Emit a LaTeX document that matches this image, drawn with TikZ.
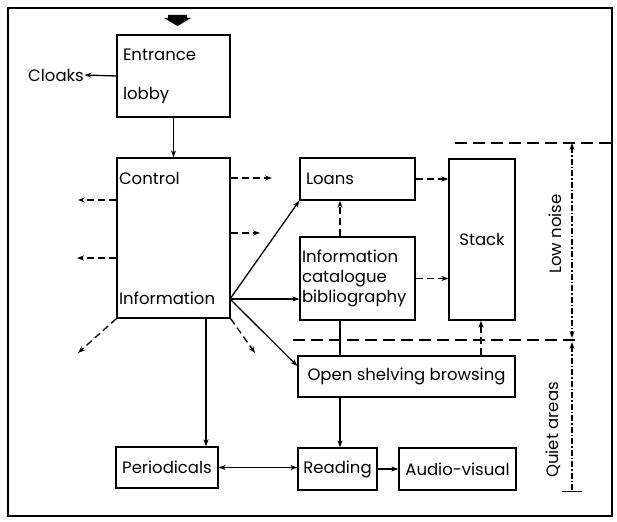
\documentclass[tikz,border=0pt]{standalone}
\usepackage{fontspec}
\setmainfont{Poppins}
\usetikzlibrary{arrows.meta,calc}
\newcommand\dfont{\fontsize{16.5}{20}\selectfont}
\begin{document}
\begin{tikzpicture}[x=1pt,y=-1pt,
  line width=1.3pt,
  box/.style={draw,rectangle,inner sep=0pt,font=\dfont},
  lbl/.style={inner sep=0pt,font=\dfont},
  arr/.style={-{Stealth[length=7pt,width=5pt]}},
  darr/.style={dash pattern=on 7pt off 4pt,-{Stealth[length=7pt,width=5pt]}},
  zone/.style={line width=1.5pt,dash pattern=on 12pt off 6pt},
  dim/.style={line width=1.1pt,dash pattern=on 6pt off 2pt on 1.5pt off 2pt}]
\useasboundingbox (0,0) rectangle (617,521);
\draw[line width=1.4pt] (8,8) rectangle (612,516);
% entrance arrow
\fill (168,15) -- (187,15) -- (187,18) -- (191,18) -- (177.5,26) -- (164,18) -- (168,18) -- cycle;
% boxes
\node[box,minimum width=113pt,minimum height=82pt,text width=101pt,align=left] (lobby) at (173.5,76) {Entrance\\[19pt]lobby};
\node[box,minimum width=113pt,minimum height=160pt,text width=109pt,align=left] (ctrl) at (173.5,238) {Control\\[100pt]Information};
\node[box,minimum width=115pt,minimum height=42pt,text width=103pt,align=left] (loans) at (357.5,179) {Loans};
\node[box,minimum width=115pt,minimum height=83pt,text width=111pt,align=left] (cat) at (357.5,278.5) {Information\\catalogue\\bibliography};
\node[box,minimum width=66pt,minimum height=161pt] (stack) at (482,239.5) {Stack};
\node[box,minimum width=217pt,minimum height=41pt] (open) at (406.5,376.5) {Open shelving browsing};
\node[box,minimum width=79pt,minimum height=42pt] (read) at (337.5,469) {Reading};
\node[box,minimum width=117pt,minimum height=42pt] (av) at (457.5,469) {Audio-visual};
\node[box,minimum width=102pt,minimum height=41pt] (per) at (167,467.5) {Periodicals};
\node[lbl] (cloaks) at (56,75) {Cloaks};
\node[lbl,rotate=90] (low) at (555,234) {Low noise};
\node[lbl,rotate=90] (quiet) at (553,430) {Quiet areas};
% coordinates
\coordinate (ip) at (230,299);
\coordinate (l1) at (78,200);
\coordinate (l2) at (77,258);
\coordinate (r1) at (272,178);
\coordinate (r2) at (260,233);
\coordinate (dl) at (78,353);
\coordinate (dr) at (255,353);
% connectors
\draw[arr] (lobby.west) -- (cloaks.east);
\draw[arr] (lobby.south) -- (ctrl.north);
\draw[darr] (ctrl.west |- l1) -- (l1);
\draw[darr] (ctrl.west |- l2) -- (l2);
\draw[darr] (ctrl.east |- r1) -- (r1);
\draw[darr] (ctrl.east |- r2) -- (r2);
\draw[darr] (ctrl.south west) -- (dl);
\draw[darr] (ctrl.south east) -- (dr);
\draw[arr] (ip) -- (loans.south west);
\draw[arr] (ip) -- (ip -| cat.west);
\draw[arr] (ip) -- (open.west |- 0,366);
\draw[arr] (ctrl.south -| 206,0) -- (per.north -| 206,0);
\draw[darr] (cat.north -| 340,0) -- (loans.south -| 340,0);
\draw[darr] (loans.east) -- (loans.east -| stack.west);
\draw[darr] (cat.east) -- (cat.east -| stack.west);
\draw (cat.south -| 340,0) -- (open.north -| 340,0);
\draw[darr] (open.north -| 481,0) -- (stack.south -| 481,0);
\draw[arr] (open.south -| 340,0) -- (read.north -| 340,0);
\draw[{Stealth[length=7pt,width=5pt]}-{Stealth[length=7pt,width=5pt]}] (per.east) -- (per.east -| read.west);
\draw[arr] (read.east) -- (av.west);
% zone lines
\draw[zone] (455,143) -- (612,143);
\draw[zone] (293,340) -- (577,340);
\draw[dim,{Stealth[length=7pt,width=5pt]}-{Stealth[length=7pt,width=5pt]}] (572,143) -- (572,338);
\draw[dim,{Stealth[length=7pt,width=5pt]}-{Bar[width=20pt]}] (572,342) -- (572,492);
\end{tikzpicture}
\end{document}
